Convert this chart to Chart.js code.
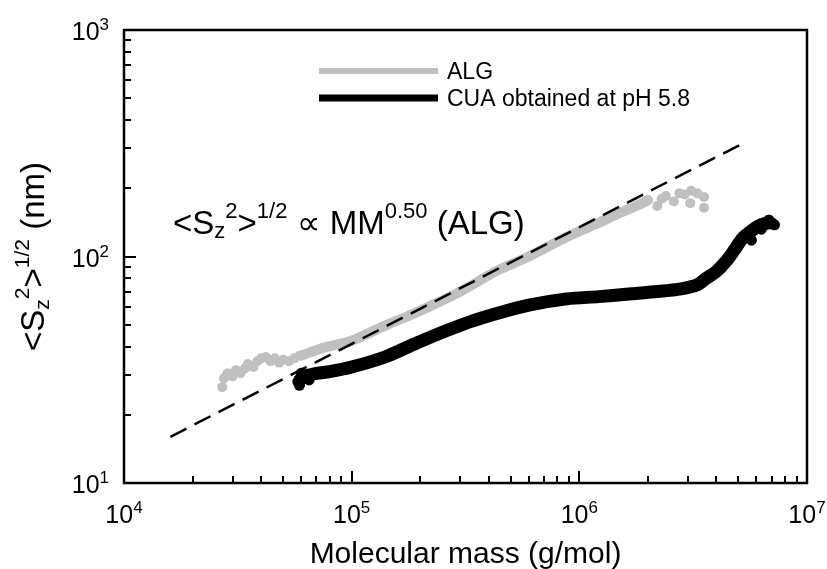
<!DOCTYPE html>
<html>
<head>
<meta charset="utf-8">
<script src="https://cdn.jsdelivr.net/npm/chart.js@4.4.1/dist/chart.umd.min.js"></script>
<style>
  html, body { margin: 0; padding: 0; background: #fff; }
  #wrap { width: 827px; height: 569px; position: relative; }
</style>
</head>
<body>
<div id="wrap"><canvas id="rgChart"></canvas></div>
<script>
/* Radius of gyration vs molecular mass (log-log)
   values */

// ALG - noisy low-mass start
const algStartMass = [2.7e4, 2.75e4, 2.85e4, 3.0e4, 3.1e4, 3.25e4, 3.4e4, 3.5e4, 3.7e4, 3.85e4, 4.0e4, 4.2e4,
                      4.4e4, 4.6e4, 4.8e4, 5.0e4, 5.3e4, 5.6e4, 5.9e4];
const algStartRg   = [26.5, 29, 30.5, 29.5, 31.5, 30.5, 32, 33.5, 32.5, 34.5, 35.5, 36,
                      34.5, 35.5, 34, 35, 34.5, 35.5, 36.5];

// ALG - main band
const algMass = [6.0e4, 7.5e4, 1.0e5, 1.37e5, 1.8e5, 2.26e5, 3.0e5, 4.3e5, 6.0e5, 8.8e5, 1.2e6, 1.45e6, 1.8e6, 2.0e6];
const algRg   = [36.5, 39.5, 42.5, 49, 55, 61, 70, 86, 100, 122, 140, 153, 168, 177];

// ALG - scattered high-mass end
const algEndMass = [2.0e6, 2.2e6, 2.3e6, 2.4e6, 2.6e6, 2.75e6, 2.9e6, 3.07e6, 3.1e6, 3.3e6, 3.53e6, 3.53e6];
const algEndRg   = [177, 167, 180, 185, 175, 190, 188, 172, 195, 190, 183, 164];

// CUA obtained at pH 5.8
const cuaMass = [5.8e4, 6.2e4, 7e4, 8e4, 1.0e5, 1.4e5, 1.93e5, 2.6e5, 3.4e5, 4.46e5, 6e5, 8.8e5, 1.22e6, 1.7e6,
                 2.2e6, 2.8e6, 3.3e6, 3.6e6, 4.0e6, 4.4e6, 4.8e6, 5.2e6, 5.6e6, 6.1e6, 6.6e6, 7.0e6];
const cuaRg   = [28, 29.5, 30.5, 31, 32.5, 36, 41.5, 47, 52, 56.5, 61, 65, 66.5, 68.5,
                 70, 72, 75, 80, 86, 95, 107, 120, 128, 136, 140, 141];
const cuaExtraMass = [5.9e4, 6.0e4, 6.5e4, 5.0e6, 5.4e6, 5.7e6, 6.3e6, 6.8e6, 7.2e6];
const cuaExtraRg   = [27, 30.5, 28.5, 112, 122, 118, 132, 145, 138];

// power-law guide  <Sz2>1/2 ~ MM^0.50
const fitMass = [1.6e4, 5.3e6];
const fitRg   = [16, 318];

// axes
const xTicks = [1e4, 1e5, 1e6, 1e7];
const xTickExp = ['4', '5', '6', '7'];
const yTicks = [10, 100, 1000];
const yTickExp = ['1', '2', '3'];

const FONT = "'Liberation Sans', Arial, Helvetica, sans-serif";
const GREY = '#c0c0c0';

const pts = (xs, ys) => xs.map((x, i) => ({ x, y: ys[i] }));

// draw a run of text pieces: {t, s (size), dy (baseline shift)}
function drawRich(ctx, parts, x, y, align) {
  let total = 0;
  parts.forEach(p => { ctx.font = `${p.s}px ${FONT}`; p.w = ctx.measureText(p.t).width; total += p.w; });
  let cx = x;
  if (align === 'center') cx = x - total / 2;
  if (align === 'right') cx = x - total;
  ctx.textAlign = 'left';
  ctx.textBaseline = 'alphabetic';
  parts.forEach(p => {
    ctx.font = `${p.s}px ${FONT}`;
    ctx.fillText(p.t, cx, y + (p.dy || 0));
    cx += p.w;
  });
}

const framePlugin = {
  id: 'frame',
  afterDraw(chart) {
    const { ctx, chartArea: a, scales: { x, y } } = chart;
    ctx.save();
    ctx.fillStyle = '#000';
    ctx.strokeStyle = '#000';

    // inward ticks
    ctx.lineWidth = 2;
    ctx.beginPath();
    for (let d = 4; d < 7; d++) {
      for (let m = 1; m <= 9; m++) {
        const px = Math.round(x.getPixelForValue(m * Math.pow(10, d)));
        const len = m === 1 ? 12 : 7;
        ctx.moveTo(px, a.bottom); ctx.lineTo(px, a.bottom - len);
      }
    }
    for (let d = 1; d < 3; d++) {
      for (let m = 1; m <= 9; m++) {
        const py = Math.round(y.getPixelForValue(m * Math.pow(10, d)));
        const len = m === 1 ? 12 : 7;
        ctx.moveTo(a.left, py); ctx.lineTo(a.left + len, py);
      }
    }
    ctx.stroke();

    // frame
    ctx.lineWidth = 2.5;
    ctx.strokeRect(a.left, a.top, a.right - a.left, a.bottom - a.top);

    // tick labels
    xTicks.forEach((v, i) => {
      const px = x.getPixelForValue(v);
      drawRich(ctx, [{ t: '10', s: 25 }, { t: xTickExp[i], s: 17, dy: -10 }], px, a.bottom + 40, 'center');
    });
    yTicks.forEach((v, i) => {
      const py = y.getPixelForValue(v);
      drawRich(ctx, [{ t: '10', s: 25 }, { t: yTickExp[i], s: 17, dy: -10 }], a.left - 15, py + 10, 'right');
    });

    // x title
    drawRich(ctx, [{ t: 'Molecular mass (g/mol)', s: 30 }], (a.left + a.right) / 2, 563, 'center');

    // y title
    ctx.save();
    ctx.translate(44, (a.top + a.bottom) / 2);
    ctx.rotate(-Math.PI / 2);
    drawRich(ctx, [
      { t: '<S', s: 33 }, { t: 'z', s: 21, dy: 5 }, { t: '2', s: 21, dy: -15 },
      { t: '>', s: 33 }, { t: '1/2', s: 21, dy: -15 }, { t: ' (nm)', s: 33 }
    ], 0, 0, 'center');
    ctx.restore();

    // annotation
    drawRich(ctx, [
      { t: '<S', s: 33 }, { t: 'z', s: 22, dy: 4 }, { t: '2', s: 22, dy: -16 },
      { t: '>', s: 33 }, { t: '1/2', s: 22, dy: -16 }, { t: ' \u221D MM', s: 33 },
      { t: '0.50', s: 22, dy: -16 }, { t: ' (ALG)', s: 33 }
    ], 173, 234, 'left');

    // legend
    ctx.lineCap = 'butt';
    ctx.lineWidth = 6;
    ctx.strokeStyle = GREY;
    ctx.beginPath(); ctx.moveTo(319, 71); ctx.lineTo(438, 71); ctx.stroke();
    ctx.lineWidth = 7;
    ctx.strokeStyle = '#000';
    ctx.beginPath(); ctx.moveTo(319, 98); ctx.lineTo(438, 98); ctx.stroke();
    drawRich(ctx, [{ t: 'ALG', s: 23 }], 447, 79, 'left');
    drawRich(ctx, [{ t: 'CUA obtained at pH 5.8', s: 23 }], 447, 106, 'left');

    ctx.restore();
  }
};

new Chart(document.getElementById('rgChart'), {
  type: 'scatter',
  data: {
    datasets: [
      {
        label: 'fit',
        data: pts(fitMass, fitRg),
        showLine: true,
        borderColor: '#000',
        borderWidth: 2.5,
        borderDash: [18, 9],
        pointRadius: 0,
        order: 0
      },
      {
        label: 'CUA obtained at pH 5.8',
        data: pts(cuaMass, cuaRg),
        showLine: true,
        borderColor: '#000',
        backgroundColor: '#000',
        borderWidth: 13,
        pointRadius: 5.5,
        pointBorderWidth: 0,
        tension: 0.3,
        order: 1
      },
      {
        label: 'CUA extra',
        data: pts(cuaExtraMass, cuaExtraRg),
        backgroundColor: '#000',
        pointRadius: 5.5,
        pointBorderWidth: 0,
        order: 1
      },
      {
        label: 'ALG',
        data: pts(algMass, algRg),
        showLine: true,
        borderColor: GREY,
        backgroundColor: GREY,
        borderWidth: 10,
        pointRadius: 5,
        pointBorderWidth: 0,
        tension: 0.3,
        order: 2
      },
      {
        label: 'ALG start',
        data: pts(algStartMass, algStartRg),
        backgroundColor: GREY,
        pointRadius: 5,
        pointBorderWidth: 0,
        order: 2
      },
      {
        label: 'ALG end',
        data: pts(algEndMass, algEndRg),
        backgroundColor: GREY,
        pointRadius: 5,
        pointBorderWidth: 0,
        order: 2
      }
    ]
  },
  options: {
    responsive: true,
    maintainAspectRatio: false,
    animation: false,
    layout: { padding: { left: 124, right: 20, top: 30, bottom: 86 } },
    plugins: { legend: { display: false }, tooltip: { enabled: false } },
    scales: {
      x: { type: 'logarithmic', min: 1e4, max: 1e7, display: false },
      y: { type: 'logarithmic', min: 10, max: 1000, display: false }
    }
  },
  plugins: [framePlugin]
});
</script>
</body>
</html>
